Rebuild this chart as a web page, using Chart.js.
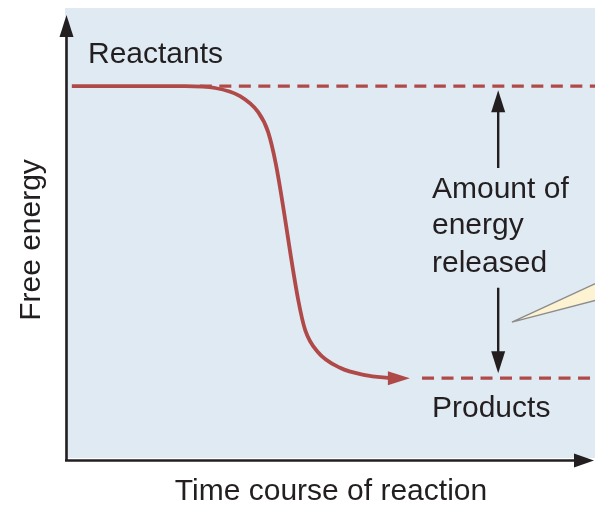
<!DOCTYPE html>
<html>
<head>
<meta charset="utf-8">
<script src="https://cdn.jsdelivr.net/npm/chart.js@4"></script>
<style>
  html, body { margin: 0; padding: 0; background: #fff; }
  #wrap { width: 595px; height: 505px; }
</style>
</head>
<body>
<div id="wrap"><canvas id="energyChart" width="595" height="505"></canvas></div>
<script>
// time course (0-100) and free energy (0-100) of the reaction curve
var timeSteps = [1.1, 22.5, 28.2, 32.9, 36.3, 38.2, 39.7, 43.9, 45.2, 47.6, 51.8, 56.5, 61.6];
var freeEnergy = [82.7, 82.7, 82.3, 80.5, 77.0, 72.6, 65.3, 35.4, 28.8, 23.9, 20.4, 18.8, 18.1];
var reactantLevel = 82.7;
var productLevel = 18.1;
var reactantDash = [25.3, 100];   // x range of dashed reactant level
var productDash = [67.3, 100];    // x range of dashed product level
var curveTip = 65.0;              // where the curve arrowhead points
var releaseX = 81.7;              // x of the "energy released" arrow
var releaseGap = [64.6, 38.1];    // arrow shafts end / start around the label

var red = '#b04a48';
var ink = '#231f20';
var font = '"Liberation Sans", Arial, sans-serif';

function toPoints(xs, ys) {
  return xs.map(function (x, i) { return { x: x, y: ys[i] }; });
}

function tri(ctx, ax, ay, bx, by, cx, cy) {
  ctx.beginPath();
  ctx.moveTo(ax, ay);
  ctx.lineTo(bx, by);
  ctx.lineTo(cx, cy);
  ctx.closePath();
  ctx.fill();
}

var diagramPlugin = {
  id: 'diagram',
  beforeDraw: function (chart) {
    var a = chart.chartArea, ctx = chart.ctx;
    ctx.save();
    ctx.fillStyle = '#e0eaf3';
    ctx.fillRect(a.left - 1, a.top, a.right - a.left + 1, a.bottom - a.top - 2);
    ctx.restore();
  },
  afterDatasetsDraw: function (chart) {
    var a = chart.chartArea, ctx = chart.ctx;
    var xs = chart.scales.x, ys = chart.scales.y;
    ctx.save();

    // curve arrowhead
    var tipX = xs.getPixelForValue(curveTip), tipY = ys.getPixelForValue(productLevel);
    ctx.fillStyle = red;
    tri(ctx, tipX, tipY, tipX - 22, tipY - 7, tipX - 22, tipY + 7);

    // energy released arrows
    var ax = xs.getPixelForValue(releaseX);
    var topTip = ys.getPixelForValue(reactantLevel) + 4;
    var botTip = ys.getPixelForValue(productLevel) - 5;
    ctx.strokeStyle = ink;
    ctx.fillStyle = ink;
    ctx.lineWidth = 2.4;
    ctx.beginPath();
    ctx.moveTo(ax, ys.getPixelForValue(releaseGap[0]));
    ctx.lineTo(ax, topTip + 15);
    ctx.moveTo(ax, ys.getPixelForValue(releaseGap[1]));
    ctx.lineTo(ax, botTip - 15);
    ctx.stroke();
    tri(ctx, ax, topTip, ax - 7, topTip + 22, ax + 7, topTip + 22);
    tri(ctx, ax, botTip, ax - 7, botTip - 22, ax + 7, botTip - 22);

    // pointer wedge entering from the right
    var wx = xs.getPixelForValue(84.3), wy = ys.getPixelForValue(30.5);
    ctx.beginPath();
    ctx.moveTo(wx, wy);
    ctx.lineTo(a.right + 2, ys.getPixelForValue(39.2));
    ctx.lineTo(a.right + 2, ys.getPixelForValue(35.4));
    ctx.closePath();
    ctx.fillStyle = '#fdf3d2';
    ctx.fill();
    ctx.strokeStyle = '#8c8c8c';
    ctx.lineWidth = 1.5;
    ctx.stroke();

    // axes with arrowheads
    ctx.strokeStyle = ink;
    ctx.fillStyle = ink;
    ctx.lineWidth = 2.6;
    ctx.beginPath();
    ctx.moveTo(a.left + 0.5, a.bottom + 1);
    ctx.lineTo(a.left + 0.5, a.top + 26);
    ctx.moveTo(a.left - 1, a.bottom + 0.5);
    ctx.lineTo(a.right - 18, a.bottom + 0.5);
    ctx.stroke();
    tri(ctx, a.left + 0.5, a.top + 7, a.left - 6.5, a.top + 29, a.left + 7.5, a.top + 29);
    tri(ctx, a.right - 1, a.bottom + 0.5, a.right - 21, a.bottom - 6.5, a.right - 21, a.bottom + 7.5);

    // labels
    ctx.fillStyle = ink;
    ctx.font = '30px ' + font;
    ctx.textBaseline = 'alphabetic';
    ctx.textAlign = 'left';
    ctx.fillText('Reactants', 88, 63);
    ctx.fillText('Amount of', 432, 198);
    ctx.fillText('energy', 432, 234);
    ctx.fillText('released', 432, 272);
    ctx.fillText('Products', 432, 417);
    ctx.textAlign = 'center';
    ctx.fillText('Time course of reaction', 331, 500);
    ctx.translate(40, 240);
    ctx.rotate(-Math.PI / 2);
    ctx.fillText('Free energy', 0, 0);
    ctx.restore();
  }
};

new Chart(document.getElementById('energyChart'), {
  type: 'line',
  data: {
    datasets: [
      {
        data: toPoints(reactantDash, [reactantLevel, reactantLevel]),
        borderColor: red,
        borderWidth: 3.3,
        borderDash: [12, 7.5],
        pointRadius: 0
      },
      {
        data: toPoints(productDash, [productLevel, productLevel]),
        borderColor: red,
        borderWidth: 3.3,
        borderDash: [12, 7.5],
        pointRadius: 0
      },
      {
        data: toPoints(timeSteps, freeEnergy),
        borderColor: red,
        borderWidth: 3.8,
        cubicInterpolationMode: 'monotone',
        pointRadius: 0
      }
    ]
  },
  options: {
    responsive: false,
    animation: false,
    layout: { padding: { left: 66, right: 0, top: 8, bottom: 45 } },
    plugins: { legend: { display: false }, tooltip: { enabled: false } },
    scales: {
      x: { type: 'linear', min: 0, max: 100, display: false },
      y: { type: 'linear', min: 0, max: 100, display: false }
    }
  },
  plugins: [diagramPlugin]
});
</script>
</body>
</html>
